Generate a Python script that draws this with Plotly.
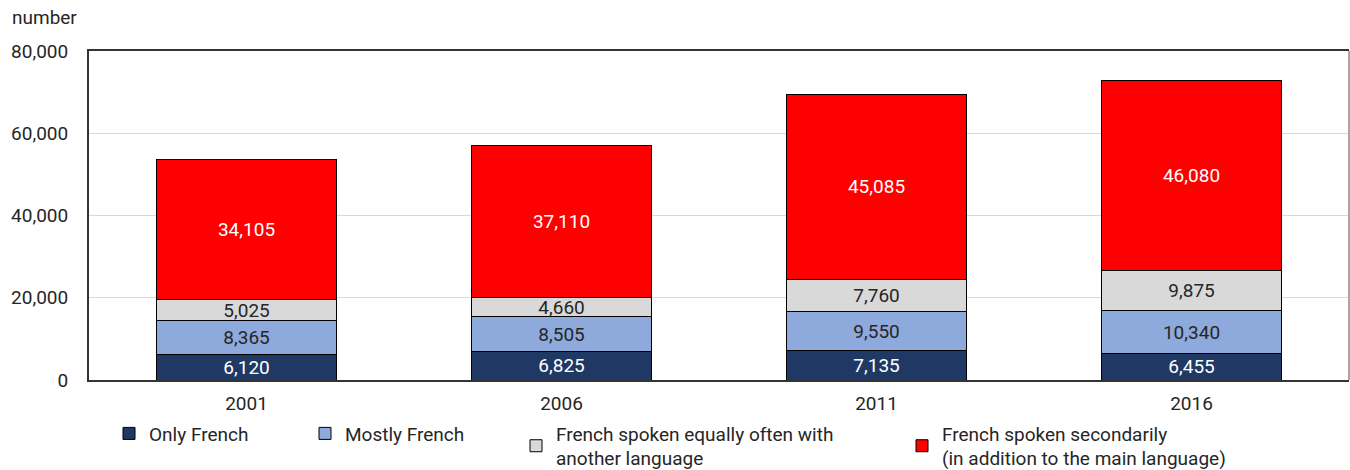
import plotly.graph_objects as go

years = ["2001", "2006", "2011", "2016"]
only_french = [6120, 6825, 7135, 6455]
mostly_french = [8365, 8505, 9550, 10340]
equally_often = [5025, 4660, 7760, 9875]
secondarily = [34105, 37110, 45085, 46080]

series_names = [
    "Only French",
    "Mostly French",
    "French spoken equally often with<br>another language",
    "French spoken secondarily<br>(in addition to the main language)",
]
y_ticks = [0, 20000, 40000, 60000, 80000]

FAM = "Roboto, DejaVu Sans Condensed, sans-serif"
def F(size=19, color="#262626"):
    return dict(family=FAM, size=size, color=color)

TXT = "#262626"
colors = ["#203864", "#8EA9DB", "#D9D9D9", "#FF0000"]
text_colors = ["#FFFFFF", TXT, TXT, "#FFFFFF"]
values = [only_french, mostly_french, equally_often, secondarily]
legend_ids = ["legend", "legend2", "legend3", "legend4"]

fig = go.Figure()
for name, vals, col, tcol, lg in zip(series_names, values, colors, text_colors, legend_ids):
    fig.add_trace(go.Bar(
        x=years, y=vals, name=name,
        marker=dict(color=col, line=dict(color="#000000", width=1)),
        texttemplate="%{y:,}", textposition="inside", insidetextanchor="middle",
        textangle=0, constraintext="none",
        textfont=F(19, tcol),
        legend=lg,
    ))

legend_text_x = [150, 346, 557, 943]
legend_layouts = {}
for lg, tx in zip(legend_ids, legend_text_x):
    legend_layouts[lg] = dict(
        orientation="h", yanchor="top", xanchor="left", y=-0.105,
        x=(tx - 41 - 89) / 1260,
        font=F(19), bgcolor="rgba(0,0,0,0)", itemwidth=30, tracegroupgap=0,
    )

fig.update_layout(
    width=1350, height=470,
    margin=dict(l=89, r=1, t=51, b=90, autoexpand=False),
    barmode="stack", bargap=0.428,
    plot_bgcolor="#FFFFFF", paper_bgcolor="#FFFFFF",
    font=F(19),
    showlegend=True,
    **legend_layouts,
    xaxis=dict(
        showline=True, linecolor="#333333", linewidth=2, mirror=True,
        ticks="", ticklabelstandoff=5, tickfont=F(19),
    ),
    yaxis=dict(
        range=[0, 80000], tickvals=y_ticks, tickformat=",",
        showgrid=True, gridcolor="#D9D9D9", gridwidth=1,
        showline=True, linecolor="#333333", linewidth=2,
        ticks="", ticklabelstandoff=15, tickfont=F(19),
        zeroline=False,
    ),
    annotations=[dict(
        text="number", xref="paper", yref="paper", x=(10 - 89) / 1260,
        y=(380 - 18) / 329, xanchor="left", yanchor="middle", showarrow=False,
        font=F(19),
    )],
    shapes=[dict(type="line", xref="paper", yref="paper", x0=1, x1=1, y0=0, y1=1,
                 line=dict(color="#A6A6A6", width=2))],
)

fig.write_html("out.html", config={"displayModeBar": False},
               post_script="document.body.style.margin='0';")
